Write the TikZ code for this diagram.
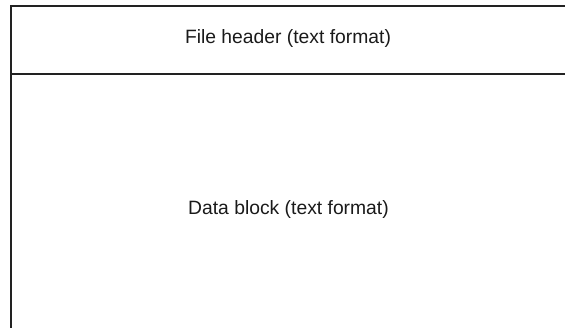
\documentclass[tikz,border=0pt]{standalone}
\usepackage{fontspec}
\setmainfont{Liberation Sans}
\definecolor{linec}{HTML}{222222}
\definecolor{textc}{HTML}{1A1A1A}
\begin{document}
\begin{tikzpicture}[x=1pt,y=1pt,
  lbl/.style={inner sep=0pt, text=textc, font=\fontsize{19.3}{22}\selectfont},
  thick border/.style={draw=linec, line width=2pt},
  thin border/.style={draw=linec, line width=1.1pt}]
\useasboundingbox (0,0) rectangle (565,328);
\coordinate (tl) at (10.5,322);
\coordinate (tr) at (565,322);
\coordinate (bl) at (10.5,0);
\coordinate (hl) at (10.5,254);
\coordinate (hr) at (565,254);
\draw[thick border] (tr) -- (tl) -- (bl);
\draw[thin border] (hl) -- (hr);
\node[lbl] (hdr) at (288,289) {File header (text format)};
\node[lbl] (data) at (288.5,118) {Data block (text format)};
\end{tikzpicture}
\end{document}
